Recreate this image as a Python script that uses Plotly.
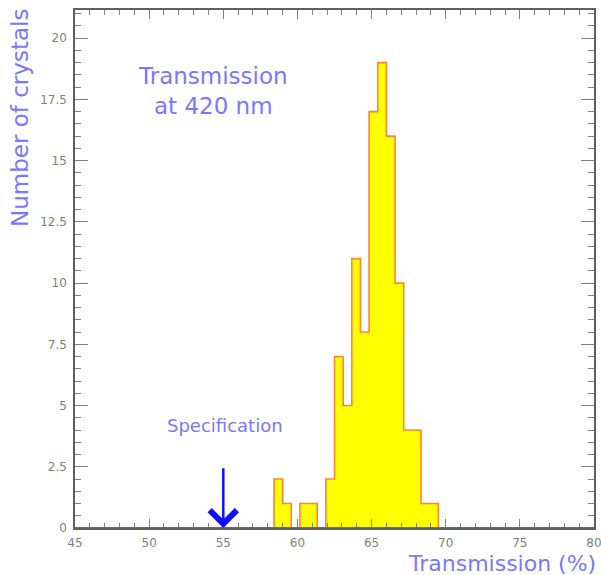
import plotly.graph_objects as go

# ---- data ----
x_min, x_max, n_bins = 45.0, 80.0, 60
counts = [0] * 23 + [2, 1, 0, 1, 1, 0, 2, 7, 5, 11, 8, 17, 19, 16, 10, 4, 4, 1, 1] + [0] * 18
x_tick_vals = [45, 50, 55, 60, 65, 70, 75, 80]
x_tick_text = ["45", "50", "55", "60", "65", "70", "75", "80"]
y_tick_vals = [0, 2.5, 5, 7.5, 10, 12.5, 15, 17.5, 20]
y_tick_text = ["0", "2.5", "5", "7.5", "10", "12.5", "15", "17.5", "20"]
spec_value = 55
spec_arrow_top = 2.5
y_max = 21.15

bw = (x_max - x_min) / n_bins
edges = [x_min + i * bw for i in range(n_bins + 1)]
xs = edges
ys = counts + [0]

blue_txt = "#7878ff"
font_family = "DejaVu Sans"

fig = go.Figure()
fig.add_trace(go.Scatter(
    x=xs, y=ys, mode="lines", line=dict(shape="hv", color="#ff8434", width=1.6),
    fill="tozeroy", fillcolor="#ffff00", hoverinfo="skip", showlegend=False))

axis_common = dict(showgrid=False, zeroline=False, showline=True, mirror="ticks",
                   ticks="inside", tickcolor="#808080", linecolor="#606060", linewidth=1.5,
                   automargin=False, ticklabeloverflow="allow",
                   tickfont=dict(family=font_family, size=12, color="#808080"))

fig.update_xaxes(range=[x_min, x_max], tickvals=x_tick_vals, ticktext=x_tick_text,
                 ticklen=9, tickwidth=1.2, ticklabelstandoff=3,
                 minor=dict(dtick=1, ticks="inside", ticklen=5, tickcolor="#808080"),
                 **axis_common)
fig.update_yaxes(range=[0, y_max], tickvals=y_tick_vals, ticktext=y_tick_text,
                 ticklen=13, tickwidth=1.2, ticklabelstandoff=4,
                 minor=dict(dtick=0.5, ticks="inside", ticklen=6, tickcolor="#808080"),
                 **axis_common)

# bottom baseline (histogram zero line over the axis)
fig.add_shape(type="line", xref="paper", x0=0, x1=1, yref="y", y0=0, y1=0,
              line=dict(color="#a85050", width=2), layer="above")

fig.add_annotation(x=spec_value, y=0, ax=spec_value, ay=spec_arrow_top, xref="x", yref="y",
                   axref="x", ayref="y", text="", showarrow=True, arrowhead=4,
                   arrowsize=2.1, arrowwidth=2.5, arrowcolor="#1010ff")
fig.add_annotation(x=55.1, y=4.2, xref="x", yref="y", text="Specification", showarrow=False,
                   font=dict(family=font_family, size=18, color=blue_txt))
fig.add_annotation(x=54.3, y=17.85, xref="x", yref="y", text="Transmission<br>at 420 nm",
                   showarrow=False, align="center",
                   font=dict(family=font_family, size=23, color=blue_txt))
fig.add_annotation(x=1, y=-0.068, xref="paper", yref="paper", text="Transmission (%)",
                   showarrow=False, xanchor="right", yanchor="middle", xshift=4,
                   font=dict(family=font_family, size=22, color=blue_txt))
fig.add_annotation(x=-0.106, y=1, xref="paper", yref="paper", text="Number of crystals",
                   showarrow=False, textangle=-90, xanchor="center", yanchor="top",
                   yshift=3,
                   font=dict(family=font_family, size=23, color=blue_txt))

fig.update_layout(width=601, height=575, margin=dict(l=75, r=7, t=10, b=47),
                  paper_bgcolor="white", plot_bgcolor="white")

fig.write_html("out.html", config={"displayModeBar": False},
               post_script="document.body.style.margin='0';document.body.style.overflow='hidden';")
